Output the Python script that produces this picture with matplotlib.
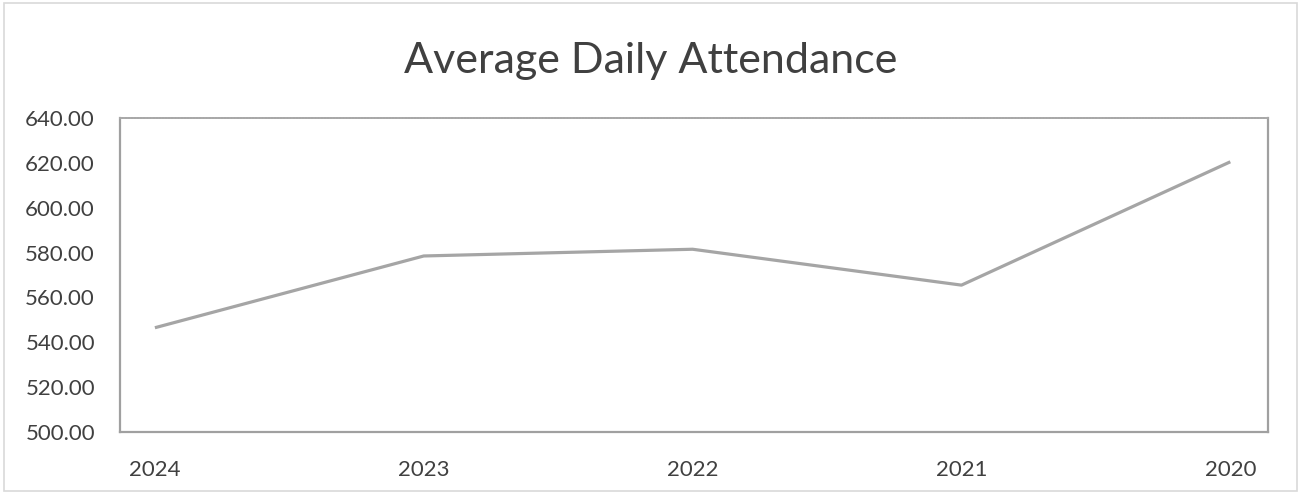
import matplotlib.pyplot as plt
from matplotlib.patches import Rectangle

years = ["2024", "2023", "2022", "2021", "2020"]
attendance = [546.5, 578.5, 581.5, 565.5, 620.5]
yticks = [500, 520, 540, 560, 580, 600, 620, 640]

plt.rcParams['font.family'] = ['Lato', 'DejaVu Sans']

fig = plt.figure(figsize=(13.01, 4.94), dpi=100)
ax = fig.add_axes([0.0922, 0.1255, 0.8824, 0.6355])

x = list(range(len(years)))
ax.plot(x, attendance, color='#a5a5a5', linewidth=2.3, solid_capstyle='butt')

ax.set_xlim(-0.13, 4.14)
ax.set_ylim(500, 640)
ax.set_xticks(x)
ax.set_xticklabels(years)
ax.set_yticks(yticks)
ax.set_yticklabels([f"{v:.2f}" for v in yticks])
ax.tick_params(axis='both', length=0, labelsize=16, colors='#404040')
ax.tick_params(axis='x', pad=20)
ax.tick_params(axis='y', pad=18)

for side in ['left', 'bottom', 'right']:
    ax.spines[side].set_color('#a0a0a0')
    ax.spines[side].set_linewidth(1.6)
ax.spines['top'].set_color('#a8a8a8')
ax.spines['top'].set_linewidth(1.4)
ax.spines['top'].set_linestyle((0, (1, 0.6)))

fig.text(0.5, 0.877, "Average Daily Attendance", ha='center', va='center',
         fontsize=31, color='#404040')

# light outer border
fig.patches.append(Rectangle((0.003, 0.006), 0.994, 0.988, transform=fig.transFigure,
                             fill=False, edgecolor='#d9d9d9', linewidth=1.2))

fig.savefig("out.png", dpi=100)
